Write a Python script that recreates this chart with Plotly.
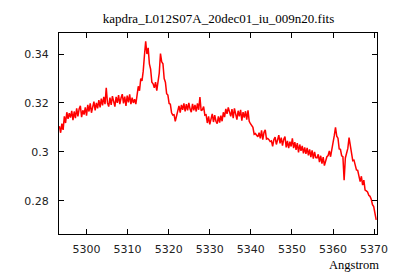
import plotly.graph_objects as go

# Wavelength grid (Angstrom): start and step of the spectrum samples
wave_start = 5293.4
wave_step = 0.3

flux = [
    0.3105, 0.3078, 0.3115, 0.3090, 0.3145, 0.3118, 0.3162, 0.3135, 0.3158, 0.3140,
    0.3168, 0.3130, 0.3165, 0.3138, 0.3178, 0.3145, 0.3175, 0.3188, 0.3142, 0.3170,
    0.3152, 0.3182, 0.3148, 0.3192, 0.3165, 0.3198, 0.3160, 0.3190, 0.3205, 0.3170,
    0.3200, 0.3178, 0.3212, 0.3182, 0.3218, 0.3190, 0.3225, 0.3195, 0.3262, 0.3200,
    0.3185, 0.3222, 0.3192, 0.3228, 0.3198, 0.3185, 0.3225, 0.3200, 0.3232, 0.3195,
    0.3220, 0.3236, 0.3198, 0.3226, 0.3188, 0.3230, 0.3202, 0.3235, 0.3195, 0.3222,
    0.3200, 0.3215, 0.3195, 0.3240, 0.3268, 0.3250, 0.3300, 0.3290, 0.3330, 0.3395,
    0.3452, 0.3400, 0.3425, 0.3360, 0.3338, 0.3285, 0.3278, 0.3262, 0.3285, 0.3250,
    0.3295, 0.3322, 0.3402, 0.3368, 0.3360, 0.3300, 0.3285, 0.3238, 0.3232, 0.3198,
    0.3195, 0.3160, 0.3150, 0.3152, 0.3125, 0.3145, 0.3168, 0.3188, 0.3160, 0.3192,
    0.3172, 0.3198, 0.3165, 0.3195, 0.3170, 0.3200, 0.3175, 0.3162, 0.3196, 0.3170,
    0.3192, 0.3165, 0.3198, 0.3172, 0.3224, 0.3168, 0.3172, 0.3185, 0.3150, 0.3152,
    0.3118, 0.3145, 0.3112, 0.3142, 0.3155, 0.3122, 0.3150, 0.3125, 0.3115, 0.3145,
    0.3120, 0.3148, 0.3125, 0.3162, 0.3142, 0.3176, 0.3155, 0.3182, 0.3160, 0.3145,
    0.3175, 0.3138, 0.3178, 0.3148, 0.3132, 0.3168, 0.3145, 0.3172, 0.3128, 0.3162,
    0.3140, 0.3166, 0.3132, 0.3170, 0.3125, 0.3115, 0.3108, 0.3100, 0.3072, 0.3075,
    0.3068, 0.3062, 0.3078, 0.3055, 0.3088, 0.3050, 0.3080, 0.3090, 0.3052, 0.3055,
    0.3050, 0.3042, 0.3045, 0.3022, 0.3050, 0.3060, 0.3030, 0.3055, 0.3068, 0.3035,
    0.3058, 0.3025, 0.3052, 0.3062, 0.3018, 0.3045, 0.3015, 0.3042, 0.3022, 0.3055,
    0.3015, 0.3040, 0.3008, 0.3036, 0.2998, 0.3030, 0.3004, 0.3024, 0.2994, 0.3018,
    0.2992, 0.3016, 0.2986, 0.3010, 0.2978, 0.3006, 0.2972, 0.3000, 0.2976, 0.2975,
    0.2990, 0.2958, 0.2984, 0.2952, 0.2978, 0.2944, 0.2968, 0.2980, 0.2985, 0.3004,
    0.2980, 0.3016, 0.3030, 0.3066, 0.3100, 0.3064, 0.3056, 0.3012, 0.3010, 0.2984,
    0.2980, 0.2884, 0.2975, 0.3000, 0.3014, 0.3058, 0.3024, 0.2990, 0.2964, 0.2966,
    0.2938, 0.2926, 0.2924, 0.2906, 0.2878, 0.2900, 0.2864, 0.2884, 0.2844, 0.2840,
    0.2836, 0.2822, 0.2818, 0.2806, 0.2784, 0.2776, 0.2752, 0.2722,
]
wave = [round(wave_start + wave_step * i, 2) for i in range(len(flux))]

x_ticks = [5300, 5310, 5320, 5330, 5340, 5350, 5360, 5370]
y_ticks = [0.28, 0.30, 0.32, 0.34]
y_tick_labels = ["0.28", "0.3", "0.32", "0.34"]

title_text = "kapdra_L012S07A_20dec01_iu_009n20.fits"
x_label = "Angstrom"

fig = go.Figure()
fig.add_trace(go.Scatter(
    x=wave, y=flux, mode="lines",
    line=dict(color="#ff0000", width=1.5),
    showlegend=False, hoverinfo="skip",
))

axis_common = dict(
    showgrid=False, zeroline=False, showline=True, linecolor="black", linewidth=1,
    mirror="allticks", ticks="inside", ticklen=5, tickcolor="black",
    tickfont=dict(family="DejaVu Sans", size=11, color="#222"),
)

fig.update_layout(
    width=392, height=272,
    margin=dict(l=51, r=19, t=25, b=46),
    paper_bgcolor="white", plot_bgcolor="white",
    title=dict(text=title_text, x=0.537, xanchor="center", y=0.96, yanchor="middle",
               font=dict(family="Liberation Serif", size=13, color="black")),
    xaxis=dict(range=[5293.3, 5370.7], tickvals=x_ticks, ticklabelstandoff=5,
               **axis_common),
    yaxis=dict(range=[0.2664, 0.3486], tickvals=y_ticks, ticktext=y_tick_labels,
               ticklabelstandoff=7, **axis_common),
    annotations=[dict(text=x_label, xref="paper", yref="paper", x=1.0124, y=-0.152,
                      xanchor="right", yanchor="middle", showarrow=False,
                      font=dict(family="Liberation Serif", size=12.5, color="black"))],
)

fig.write_html("out.html")
